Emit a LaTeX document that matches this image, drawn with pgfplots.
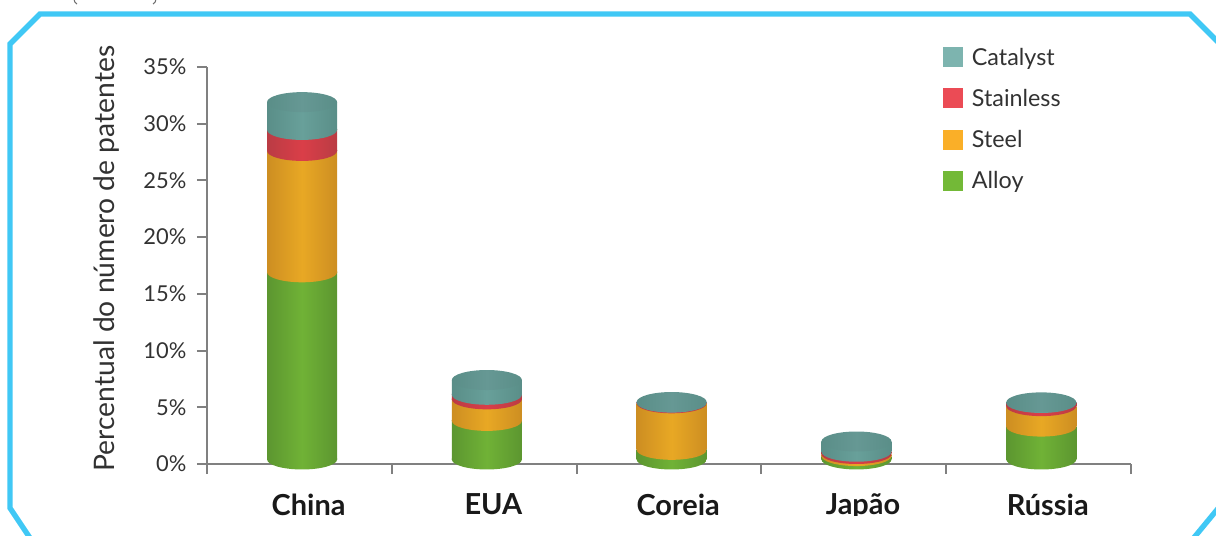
\documentclass[border=0pt]{standalone}
\usepackage{fontspec}
\setmainfont{Lato}
\usepackage{pgfplots}
\usepackage{pgfplotstable}
\usetikzlibrary{shapes.geometric}
\pgfplotsset{compat=1.18}

\definecolor{frameblue}{RGB}{64,200,245}
\definecolor{axisgray}{RGB}{128,128,128}
\definecolor{txt}{RGB}{50,50,50}
\definecolor{alloyC}{RGB}{112,178,54}
\definecolor{alloyE}{RGB}{92,150,48}
\definecolor{steelC}{RGB}{232,168,36}
\definecolor{steelE}{RGB}{205,142,34}
\definecolor{stainC}{RGB}{218,62,72}
\definecolor{stainE}{RGB}{186,60,68}
\definecolor{catC}{RGB}{104,160,154}
\definecolor{catE}{RGB}{90,142,136}
\definecolor{catTop}{RGB}{102,152,148}

% eps: a plot with y=0 is dropped from a stack, so the discs sit on a tiny value
\pgfplotstableread{
x    alloy steel stainless catalyst eps
0.5  16.5  10.7  1.85      2.45     0.001
1.5  3.4   1.9   0.4       1.3      0.001
2.5  0.85  4.1   0.06      0.05     0.001
3.5  0.3   0.18  0.2       0.9      0.001
4.5  2.9   1.8   0.28      0.05     0.001
}\data

% lower half of an ellipse; the box stays centred on the stack height
\newcommand\halfdisc[2]{\tikz{\path (-26.25pt,-7.5pt) rectangle (26.25pt,7.5pt);
  \shade[left color=#2,right color=#2,middle color=#1] (-26.25pt,0.8pt) -- (-26.25pt,0pt) arc[start angle=180,end angle=360,x radius=26.25pt,y radius=7.5pt] -- (26.25pt,0.8pt) -- cycle;}}

\pgfplotsset{
  geom/.style={
    at={(155.25pt,-348pt)},anchor=south west,
    scale only axis,width=693pt,height=297.75pt,
    xmin=0,xmax=5,ymin=0,ymax=35,clip=false},
  band/.style 2 args={draw=none,left color=#2,right color=#2,middle color=#1,forget plot},
  % curved foot of a band
  foot/.style 2 args={draw=none,fill=none,forget plot,
    nodes near coords={\halfdisc{#1}{#2}},
    nodes near coords style={anchor=center,inner sep=0pt,outer sep=0pt,draw=none}},
  % top of the stack
  disc/.style 2 args={draw=none,fill=none,forget plot,
    nodes near coords={},
    nodes near coords style={shape=ellipse,anchor=center,inner sep=0pt,outer sep=0pt,
      minimum width=52.5pt,minimum height=15pt,draw=none,
      left color=#2,right color=#2,middle color=#1}},
  sq/.style={legend image code/.code={\fill[draw=none,#1] (0pt,-7.5pt) rectangle (15pt,7.5pt);\path (19.5pt,0pt);}},
}

\begin{document}
\begin{tikzpicture}[x=0.75pt,y=-0.75pt]
\useasboundingbox (0,0) rectangle (1216,535);
\clip (0,0) rectangle (1216,535);
\draw[frameblue,line width=4pt,line join=miter]
  (38,550) -- (10,508) -- (10,44) -- (40,14) -- (1190,14) -- (1225,49);
\draw[frameblue,line width=4pt] (1225,500) -- (1192,540);
% bottoms of the cropped line above the frame
\draw[txt!70,line width=0.8pt] (74,-1) .. controls (74.5,2) .. (77,4);
\draw[txt!70,line width=0.8pt] (156,-1) .. controls (155.5,2) .. (153,4);
\begin{axis}[
    geom,
    axis lines=left,
    axis line style={-,axisgray,line width=1.4pt},
    tick align=outside,
    tick style={axisgray,line width=1.4pt},
    major tick length=7.5pt,
    minor tick length=7.5pt,
    major x tick style={draw=none},
    minor xtick={0,1,2,3,4,5},
    xtick={0.5,1.5,2.5,3.5,4.5},
    xticklabels={China,EUA,Coreia,Japão,Rússia},
    xticklabel style={font=\fontsize{21.7pt}{24pt}\selectfont\bfseries,text=black!90,yshift=-11.5pt,xshift=6.9pt},
    ytick={0,5,10,15,20,25,30,35},
    yticklabel={\pgfmathprintnumber{\tick}\%},
    /pgf/number format/assume math mode=true,
    yticklabel style={font=\fontsize{16.4pt}{18pt}\selectfont,text=txt,xshift=-4.5pt},
    ylabel={Percentual do número de patentes},
    ylabel style={at={(rel axis cs:-0.1085,0.5176)},anchor=center,font=\fontsize{21.2pt}{24pt}\selectfont,text=txt},
    legend style={at={(rel axis cs:0.7965,1.055)},anchor=north west,draw=none,fill=none,
      inner sep=0pt,outer sep=0pt,row sep=12.4pt,
      font=\fontsize{17.5pt}{20pt}\selectfont,text=txt},
    legend cell align=left,
  ]
\addlegendimage{sq={fill={rgb,255:red,125;green,180;blue,175}}}
\addlegendentry{Catalyst}
\addlegendimage{sq={fill={rgb,255:red,235;green,75;blue,85}}}
\addlegendentry{Stainless}
\addlegendimage{sq={fill={rgb,255:red,250;green,175;blue,40}}}
\addlegendentry{Steel}
\addlegendimage{sq={fill={rgb,255:red,115;green,185;blue,55}}}
\addlegendentry{Alloy}
\end{axis}
% one axis per country, so that each cylinder gets its own shading
\foreach \a/\b in {0/1,1/2,2/3,3/4,4/5}{
\begin{axis}[
    geom,hide axis,
    ybar stacked,bar width=52.5pt,
    reverse stacked plots=false,
    restrict x to domain=\a:\b,
    every axis plot/.append style={xshift=2pt,yshift=3.4pt},
  ]
\addplot[foot={alloyC}{alloyE}] table[x=x,y=eps] {\data};
\addplot[band={alloyC}{alloyE}] table[x=x,y=alloy] {\data};
\addplot[foot={steelC}{steelE}] table[x=x,y=eps] {\data};
\addplot[band={steelC}{steelE}] table[x=x,y=steel] {\data};
\addplot[foot={stainC}{stainE}] table[x=x,y=eps] {\data};
\addplot[band={stainC}{stainE}] table[x=x,y=stainless] {\data};
\addplot[foot={catC}{catE}] table[x=x,y=eps] {\data};
\addplot[band={catC}{catE}] table[x=x,y=catalyst] {\data};
\addplot[disc={catTop}{catE}] table[x=x,y=eps] {\data};
\end{axis}
}
% the reference is cropped through the descenders of the country names
\fill[white] (40,516) rectangle (1190,536);
\end{tikzpicture}
\end{document}
